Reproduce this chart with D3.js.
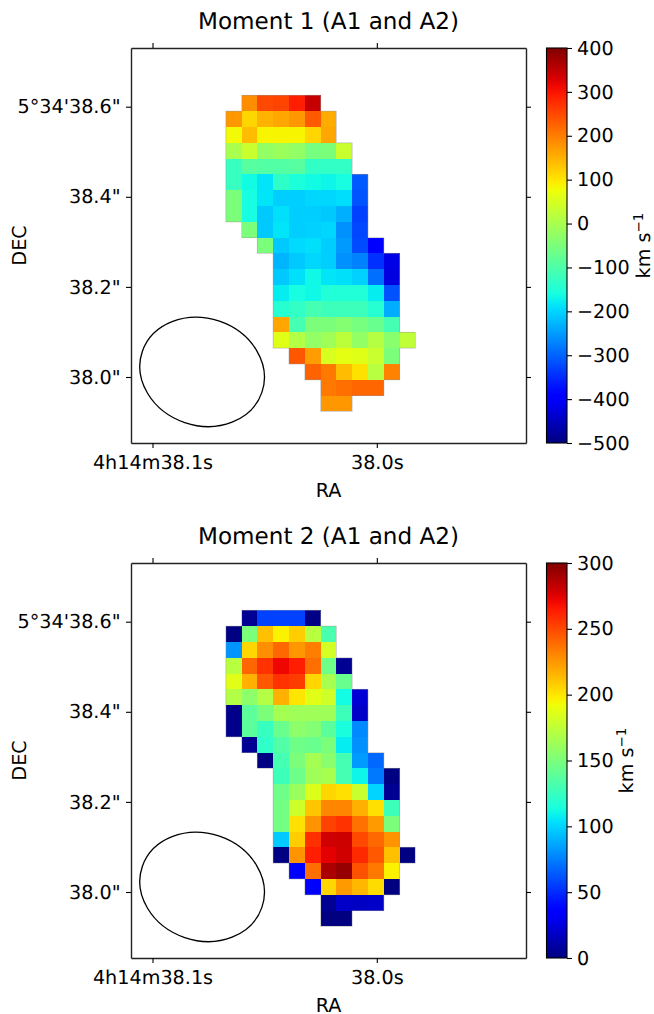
<!DOCTYPE html>
<html>
<head>
<meta charset="utf-8">
<script src="https://cdn.jsdelivr.net/npm/d3@7"></script>
<style>
  html, body { margin: 0; padding: 0; background: #fff; }
  svg text { font-family: "DejaVu Sans", sans-serif; fill: #000; text-rendering: geometricPrecision; }
</style>
</head>
<body>
<svg id="chart" width="654" height="1014"></svg>
<script>
// first filled column of each row, the mask is the same in both maps
const firstRow = 3;
const firstCol = [7, 6, 6, 6, 6, 6, 6, 6, 7, 8, 9, 9, 9, 9, 9, 9, 10, 11, 12, 12];

const moment1 = [
    [185, 250, 255, 290, 345],
    [175, 115, 148, 160, 175, 233, 155],
    [80, 140, 85, 85, 85, 115, 160],
    [0, 35, -25, -15, -25, -55, -50, 35],
    [-125, -90, -95, -95, -90, -130, -130, -130],
    [-125, -165, -185, -135, -155, -165, -170, -160, -309],
    [-50, -160, -185, -206, -206, -198, -198, -192, -313],
    [-50, -160, -210, -190, -206, -206, -210, -232, -330],
    [-50, -210, -185, -206, -203, -198, -260, -325],
    [-50, -210, -195, -190, -206, -252, -322, -400],
    [-228, -210, -198, -206, -260, -273, -345, -420],
    [-210, -190, -168, -185, -190, -203, -290, -425],
    [-178, -160, -168, -150, -150, -150, -178, -315],
    [-145, -130, -110, -120, -120, -120, -145, -235],
    [160, -110, -50, -50, -40, -55, -70, -110],
    [60, 10, -25, -10, 20, -25, 12, -35, 25],
    [237, 170, 50, 65, 60, 35, -50],
    [225, 205, 140, 105, 15, 195],
    [205, 213, 222, 222],
    [175, 175]
];

const moment2 = [
    [5, 57, 57, 57, 2],
    [1, 150, 212, 196, 208, 172, 132],
    [81, 205, 228, 240, 225, 233, 182],
    [172, 241, 257, 271, 263, 238, 145, 5],
    [187, 217, 245, 257, 254, 205, 166, 143],
    [170, 156, 170, 217, 200, 187, 180, 112, 22],
    [3, 139, 150, 165, 163, 163, 163, 127, 19],
    [3, 138, 125, 143, 156, 153, 138, 114, 78],
    [5, 122, 134, 145, 143, 150, 107, 80],
    [1, 130, 150, 165, 155, 130, 83, 68],
    [127, 145, 163, 166, 130, 110, 73, 1],
    [145, 161, 185, 205, 202, 178, 100, 5],
    [147, 180, 210, 230, 231, 217, 202, 127],
    [147, 202, 226, 252, 257, 237, 224, 150],
    [97, 208, 258, 279, 280, 250, 240, 226],
    [1, 226, 263, 274, 279, 260, 245, 212, 1],
    [35, 238, 289, 294, 247, 235, 196],
    [35, 205, 224, 215, 203, 0],
    [5, 19, 18, 19],
    [0, 0]
];

const raTicks = [38.1, 38.0];
const raLabels = ["4h14m38.1s", "38.0s"];
const decTicks = [38.6, 38.4, 38.2, 38.0];
const decLabels = ["5°34'38.6\"", "38.4\"", "38.2\"", "38.0\""];
const cbarTicks1 = [-500, -400, -300, -200, -100, 0, 100, 200, 300, 400];
const cbarTicks2 = [0, 50, 100, 150, 200, 250, 300];

// beam, in map cells
const beam = { col: 4.5, row: 20.5, rx: 4.0, ry: 3.39, angle: 18.9 };

const nCells = 25;
const raDomain = [38.10959, 37.93349];
const decDomain = [38.7303, 37.8535];

const axLeft = 131, axSize = 395, cbarGap = 20.5, cbarWidth = 20.5;
const tickFont = 19.2, titleFont = 23.1;

// matplotlib jet, channel by channel
const jetR = d3.scaleLinear().domain([0, .35, .66, .89, 1]).range([0, 0, 1, 1, .5]);
const jetG = d3.scaleLinear().domain([0, .125, .375, .64, .91, 1]).range([0, 0, 1, 1, 0, 0]);
const jetB = d3.scaleLinear().domain([0, .11, .34, .65, 1]).range([.5, 1, 1, 0, 0]);
const jet = t => d3.rgb(jetR(t) * 255, jetG(t) * 255, jetB(t) * 255).formatHex();

const svg = d3.select("#chart");

const styleAxis = (g) => {
    g.selectAll("text").style("font-size", tickFont + "px");
    g.selectAll(".tick line").attr("stroke", "#000").attr("stroke-width", 1.1);
    g.select(".domain").attr("stroke", "#222").attr("stroke-width", 1.4);
};

function drawPanel(props) {
    const { top, title, values, vmin, vmax, cbarTicks, cbarId, cbarLabelX } = props;

    const g = svg.append("g").attr("transform", `translate(${axLeft},${top})`);

    const col = d3.scaleLinear().domain([0, nCells]).range([0, axSize]);
    const row = d3.scaleLinear().domain([0, nCells]).range([0, axSize]);
    const ra = d3.scaleLinear().domain(raDomain).range([0, axSize]);
    const dec = d3.scaleLinear().domain(decDomain).range([0, axSize]);
    const color = d3.scaleLinear().domain([vmin, vmax]).range([0, 1]);

    const cells = values.flatMap((vals, i) =>
        vals.map((v, j) => ({ r: firstRow + i, c: firstCol[i] + j, v })));

    g.append("g")
        .selectAll("rect")
        .data(cells)
        .join("rect")
        .attr("x", d => Math.round(col(d.c)))
        .attr("y", d => Math.round(row(d.r)))
        .attr("width", d => Math.round(col(d.c + 1)) - Math.round(col(d.c)))
        .attr("height", d => Math.round(row(d.r + 1)) - Math.round(row(d.r)))
        .attr("fill", d => jet(color(d.v)))
        .attr("shape-rendering", "crispEdges");

    // thin grey edge where the map meets the blanked pixels
    const filled = new Set(cells.map(d => d.r + "," + d.c));
    const edge = d3.path();
    cells.forEach(d => {
        const x0 = col(d.c), x1 = col(d.c + 1), y0 = row(d.r), y1 = row(d.r + 1);
        if (!filled.has((d.r - 1) + "," + d.c)) { edge.moveTo(x0, y0); edge.lineTo(x1, y0); }
        if (!filled.has((d.r + 1) + "," + d.c)) { edge.moveTo(x0, y1); edge.lineTo(x1, y1); }
        if (!filled.has(d.r + "," + (d.c - 1))) { edge.moveTo(x0, y0); edge.lineTo(x0, y1); }
        if (!filled.has(d.r + "," + (d.c + 1))) { edge.moveTo(x1, y0); edge.lineTo(x1, y1); }
    });
    g.append("path")
        .attr("d", edge.toString())
        .attr("fill", "none")
        .attr("stroke", "#999")
        .attr("stroke-opacity", 0.6)
        .attr("stroke-width", 0.8);

    g.append("ellipse")
        .attr("transform", `translate(${col(beam.col)},${row(beam.row)}) rotate(${beam.angle})`)
        .attr("rx", col(beam.rx))
        .attr("ry", row(beam.ry))
        .attr("fill", "none")
        .attr("stroke", "#000")
        .attr("stroke-width", 1.3);

    // axes on all four sides, labels only on bottom and left
    g.append("g").attr("transform", `translate(0,${axSize})`)
        .call(d3.axisBottom(ra).tickValues(raTicks).tickFormat((d, i) => raLabels[i]).tickSizeInner(5).tickSizeOuter(0).tickPadding(7))
        .call(styleAxis);
    g.append("g")
        .call(d3.axisLeft(dec).tickValues(decTicks).tickFormat((d, i) => decLabels[i]).tickSizeInner(5).tickSizeOuter(0).tickPadding(5.5))
        .call(styleAxis);
    g.append("g")
        .call(d3.axisTop(ra).tickValues(raTicks).tickFormat("").tickSizeInner(5).tickSizeOuter(0))
        .call(styleAxis);
    g.append("g").attr("transform", `translate(${axSize},0)`)
        .call(d3.axisRight(dec).tickValues(decTicks).tickFormat("").tickSizeInner(5).tickSizeOuter(0))
        .call(styleAxis);

    g.append("text")
        .attr("x", axSize / 2).attr("y", -19.5)
        .attr("text-anchor", "middle")
        .style("font-size", titleFont + "px")
        .text(title);
    g.append("text")
        .attr("x", axSize / 2).attr("y", axSize + 53.7)
        .attr("text-anchor", "middle")
        .style("font-size", tickFont + "px")
        .text("RA");
    g.append("text")
        .attr("transform", `translate(-105.5,${axSize / 2}) rotate(-90)`)
        .attr("text-anchor", "middle")
        .style("font-size", tickFont + "px")
        .text("DEC");

    // colorbar
    const grad = svg.append("defs").append("linearGradient")
        .attr("id", cbarId)
        .attr("x1", 0).attr("y1", 1).attr("x2", 0).attr("y2", 0);
    grad.selectAll("stop")
        .data(d3.range(0, 1.0001, 0.02))
        .join("stop")
        .attr("offset", d => d)
        .attr("stop-color", d => jet(d));

    const cb = g.append("g").attr("transform", `translate(${axSize + cbarGap},0)`);
    cb.append("rect")
        .attr("width", cbarWidth).attr("height", axSize)
        .attr("fill", `url(#${cbarId})`)
        .attr("stroke", "#000").attr("stroke-width", 1.1);
    const cbScale = d3.scaleLinear().domain([vmin, vmax]).range([axSize, 0]);
    cb.append("g").attr("transform", `translate(${cbarWidth},0)`)
        .call(d3.axisRight(cbScale).tickValues(cbarTicks).tickFormat(d => d < 0 ? "\u2212" + (-d) : d).tickSizeInner(5).tickSizeOuter(0).tickPadding(5))
        .call(styleAxis)
        .call(a => a.select(".domain").remove());

    const lbl = svg.append("text")
        .attr("transform", `translate(${cbarLabelX},${top + axSize / 2}) rotate(-90)`)
        .attr("text-anchor", "middle")
        .style("font-size", tickFont + "px");
    lbl.append("tspan").text("km s");
    lbl.append("tspan").attr("dy", -7).style("font-size", "13.5px").text("\u22121");
}

drawPanel({ top: 48, title: "Moment 1 (A1 and A2)", values: moment1, vmin: -500, vmax: 400, cbarTicks: cbarTicks1, cbarId: "cbar1", cbarLabelX: 650 });
drawPanel({ top: 563, title: "Moment 2 (A1 and A2)", values: moment2, vmin: 0, vmax: 300, cbarTicks: cbarTicks2, cbarId: "cbar2", cbarLabelX: 633 });
</script>
</body>
</html>
